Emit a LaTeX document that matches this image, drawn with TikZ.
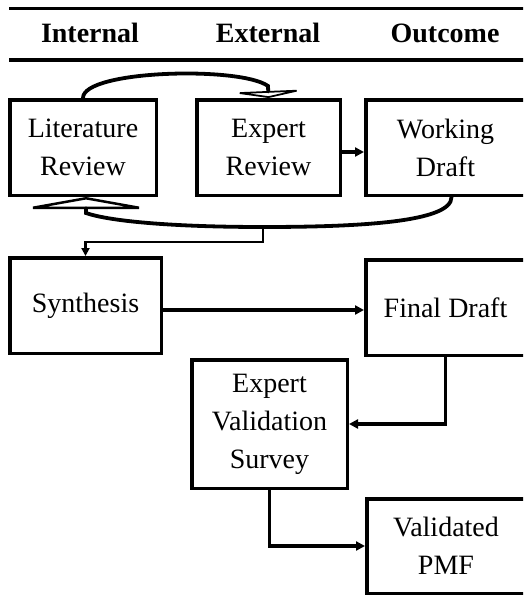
\documentclass[tikz,border=0pt]{standalone}
\usepackage{fontspec}
\setmainfont{Liberation Serif}
\usetikzlibrary{arrows.meta}
\begin{document}
\begin{tikzpicture}[x=1pt,y=-1pt,
  box/.style={draw, line width=3.5pt, align=center, inner sep=0pt,
    font=\fontsize{28}{38}\selectfont},
  colhead/.style={font=\bfseries\fontsize{28}{34}\selectfont, anchor=base, inner sep=0pt},
  rule/.style={line width=3.5pt},
  conn/.style={line width=3.2pt, -{Triangle[length=9pt,width=9pt]}},
  loop/.style={line width=3.8pt, line cap=round}]
\useasboundingbox (0,0) rectangle (523,610);
\clip (0,0) rectangle (523,610);
\fill[white] (0,0) rectangle (523,610);

% column headings between two rules
\draw[rule] (9,8.5) -- (530,8.5);
\draw[rule] (9,60) -- (530,60);
\node[colhead] (hint) at (90,43) {Internal};
\node[colhead] (hext) at (268,43) {External};
\node[colhead] (hout) at (445,43) {Outcome};

% process steps
\node[box, minimum width=146.5pt, minimum height=95.5pt] (lit) at (83,147.5) {Literature\\Review};
\node[box, minimum width=143.5pt, minimum height=95.5pt] (exp) at (268.5,147.5) {Expert\\Review};
\node[box, minimum width=159.5pt, minimum height=95.5pt] (wd) at (445.5,147.5) {Working\\Draft};
\node[box, minimum width=151.5pt, minimum height=95.5pt] (syn) at (85.5,305.5) {Synthesis};
\node[box, minimum width=159.5pt, minimum height=95.5pt] (fd) at (445.5,307.5) {Final Draft};
\node[box, minimum width=155.5pt, minimum height=128.5pt] (evs) at (269.5,424) {Expert\\Validation\\Survey};
\node[box, minimum width=158.5pt, minimum height=94.5pt] (pmf) at (446,546) {Validated\\PMF};

% review loop
\draw[loop, -{Triangle[open, length=7pt, width=76pt, line width=2.5pt]}]
  (lit.north) .. controls (83,70) and (240,66) .. (268,86) -- (exp.north);
\draw[loop, -{Triangle[open, length=12pt, width=134pt, line width=2.5pt]}]
  ([xshift=6pt]wd.south) .. controls (452,222) and (360,227) .. (263,227)
  .. controls (180,227) and (112,222) .. (86,213) -- ([xshift=3pt]lit.south);
\coordinate (cb) at (263,227);

% straight connectors
\draw[conn] ([yshift=-4.5pt]exp.east) -- ([yshift=-4.5pt]wd.west);
\draw[line width=2.4pt, -{Triangle[length=8pt,width=8pt]}] (cb) -- ++(0,15) -| (syn.north);
\draw[conn] ([yshift=-4.5pt]syn.east) -- ([yshift=-4.5pt]syn.east -| fd.west);
\draw[conn] (fd.south) |- (evs.east);
\draw[conn] (evs.south) |- (pmf.west);
\end{tikzpicture}
\end{document}
